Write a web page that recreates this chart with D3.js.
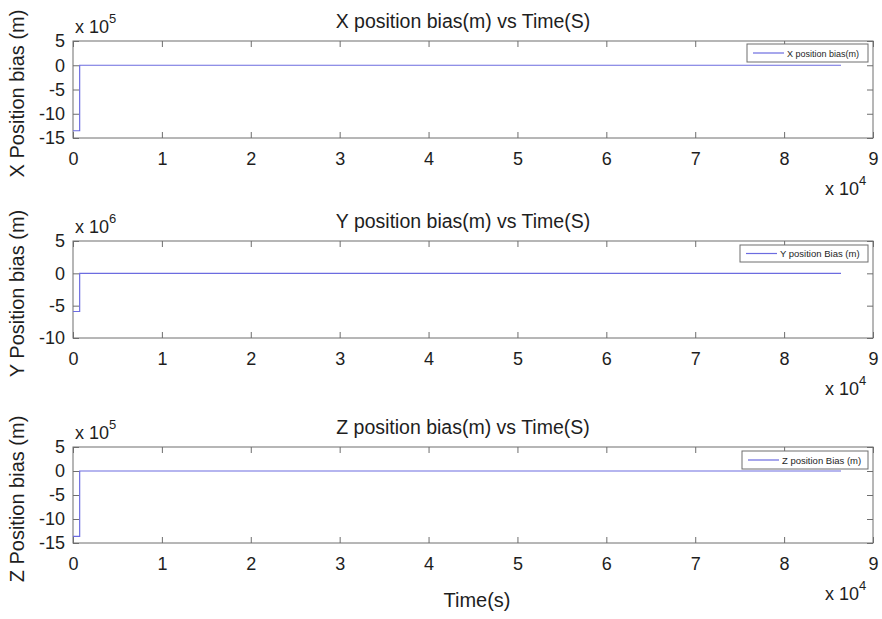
<!DOCTYPE html>
<html><head><meta charset="utf-8">
<script src="https://cdn.jsdelivr.net/npm/d3@7"></script>
<style>body{margin:0;background:#fff}svg{display:block}text{font-family:"Liberation Sans",Arial,sans-serif}</style>
</head><body><svg id="c" width="882" height="619"></svg>
<script>
// ---- data ----
const timeX = [0, 750, 750, 86400];
const valX  = [-13.5e5, -13.5e5, 0, 0];
const timeY = [0, 750, 750, 86400];
const valY  = [-5.9e6, -5.9e6, 0, 0];
const timeZ = [0, 750, 750, 86400];
const valZ  = [-13.6e5, -13.6e5, 0, 0];
const xTicks = [0,1,2,3,4,5,6,7,8,9];          // x 10^4
const yTicksX = [5,0,-5,-10,-15];               // x 10^5
const yTicksY = [5,0,-5,-10];                   // x 10^6
const yTicksZ = [5,0,-5,-10,-15];               // x 10^5
const titles = ["X position bias(m) vs Time(S)","Y position bias(m) vs Time(S)","Z position bias(m) vs Time(S)"];
const yLabels = ["X Position bias (m)","Y Position bias (m)","Z Position bias (m)"];
const legends = ["X position bias(m)","Y position Bias (m)","Z position Bias (m)"];

const svg = d3.select("#c");
const lineColor = "#6c6ce0", axisColor = "#6e6e6e", txt = "#1e1e1e";

const panels = [
  {t:timeX,v:valX,ticks:yTicksX,exp:5,top:41,bot:138,leg:[747,44,121,18],legFont:9},
  {t:timeY,v:valY,ticks:yTicksY,exp:6,top:241,bot:338,leg:[740,245,128,17],legFont:9.5},
  {t:timeZ,v:valZ,ticks:yTicksZ,exp:5,top:447,bot:543,leg:[742,451,126,18],legFont:9.5}
];
const L = 73, R = 873;

panels.forEach((p,i)=>{
  const x = d3.scaleLinear().domain([0,90000]).range([L,R]);
  const m = Math.pow(10,p.exp);
  const y = d3.scaleLinear().domain([d3.min(p.ticks)*m, d3.max(p.ticks)*m]).range([p.bot,p.top]);
  const g = svg.append("g");
  g.append("rect").attr("x",L).attr("y",p.top).attr("width",R-L).attr("height",p.bot-p.top)
    .attr("fill","none").attr("stroke",axisColor).attr("stroke-width",1);
  const xa = d3.axisBottom(x).tickValues(xTicks.map(d=>d*1e4)).tickFormat(d=>d/1e4).tickSizeInner(-6).tickSizeOuter(0);
  const gx = g.append("g").attr("transform",`translate(0,${p.bot})`).call(xa);
  const xt = d3.axisTop(x).tickValues(xTicks.map(d=>d*1e4)).tickFormat("").tickSizeInner(-6).tickSizeOuter(0);
  const gxt = g.append("g").attr("transform",`translate(0,${p.top})`).call(xt);
  const ya = d3.axisLeft(y).tickValues(p.ticks.map(d=>d*m)).tickFormat(d=>Math.round(d/m)).tickSizeInner(-6).tickSizeOuter(0).tickPadding(8);
  const gy = g.append("g").attr("transform",`translate(${L},0)`).call(ya);
  const yr = d3.axisRight(y).tickValues(p.ticks.map(d=>d*m)).tickFormat("").tickSizeInner(-6).tickSizeOuter(0);
  const gyr = g.append("g").attr("transform",`translate(${R},0)`).call(yr);
  [gx,gxt,gy,gyr].forEach(a=>{
    a.select(".domain").remove();
    a.selectAll("line").attr("stroke",axisColor);
    a.selectAll("text").attr("font-size",18).attr("fill",txt);
  });
  gx.selectAll("text").attr("y",27).attr("dy",0);
  gy.selectAll("text").attr("x",-8);
  const data = p.t.map((t,k)=>[t,p.v[k]]);
  g.append("path").datum(data).attr("fill","none").attr("stroke",lineColor).attr("stroke-width",1.2)
    .attr("d",d3.line().x(d=>x(d[0])).y(d=>y(d[1])));
  g.append("text").attr("x",463).attr("y",p.top-13).attr("text-anchor","middle").attr("font-size",19.5).attr("fill",txt).text(titles[i]);
  const mt = g.append("text").attr("x",L+2).attr("y",p.top-8).attr("font-size",18).attr("fill",txt);
  mt.append("tspan").text("x 10");
  mt.append("tspan").attr("font-size",13).attr("dy",-10).text(p.exp);
  const xm = g.append("text").attr("x",R-48).attr("y",p.bot+57).attr("font-size",18).attr("fill",txt);
  xm.append("tspan").text("x 10");
  xm.append("tspan").attr("font-size",13).attr("dy",-10).text("4");
  g.append("text").attr("transform",`translate(24,${(p.top+p.bot)/2+4}) rotate(-90)`).attr("text-anchor","middle")
    .attr("font-size",20).attr("fill",txt).text(yLabels[i]);
  const [lx,ly,lw,lh] = p.leg;
  g.append("rect").attr("x",lx).attr("y",ly).attr("width",lw).attr("height",lh).attr("fill","#fff").attr("stroke",axisColor);
  g.append("line").attr("x1",lx+6).attr("x2",lx+37).attr("y1",ly+lh/2).attr("y2",ly+lh/2).attr("stroke",lineColor).attr("stroke-width",1.2);
  g.append("text").attr("x",lx+40).attr("y",ly+lh/2+3.5).attr("font-size",p.legFont).attr("fill",txt).text(legends[i]);
});
svg.append("text").attr("x",477).attr("y",607).attr("text-anchor","middle").attr("font-size",20).attr("fill",txt).text("Time(s)");
</script></body></html>
